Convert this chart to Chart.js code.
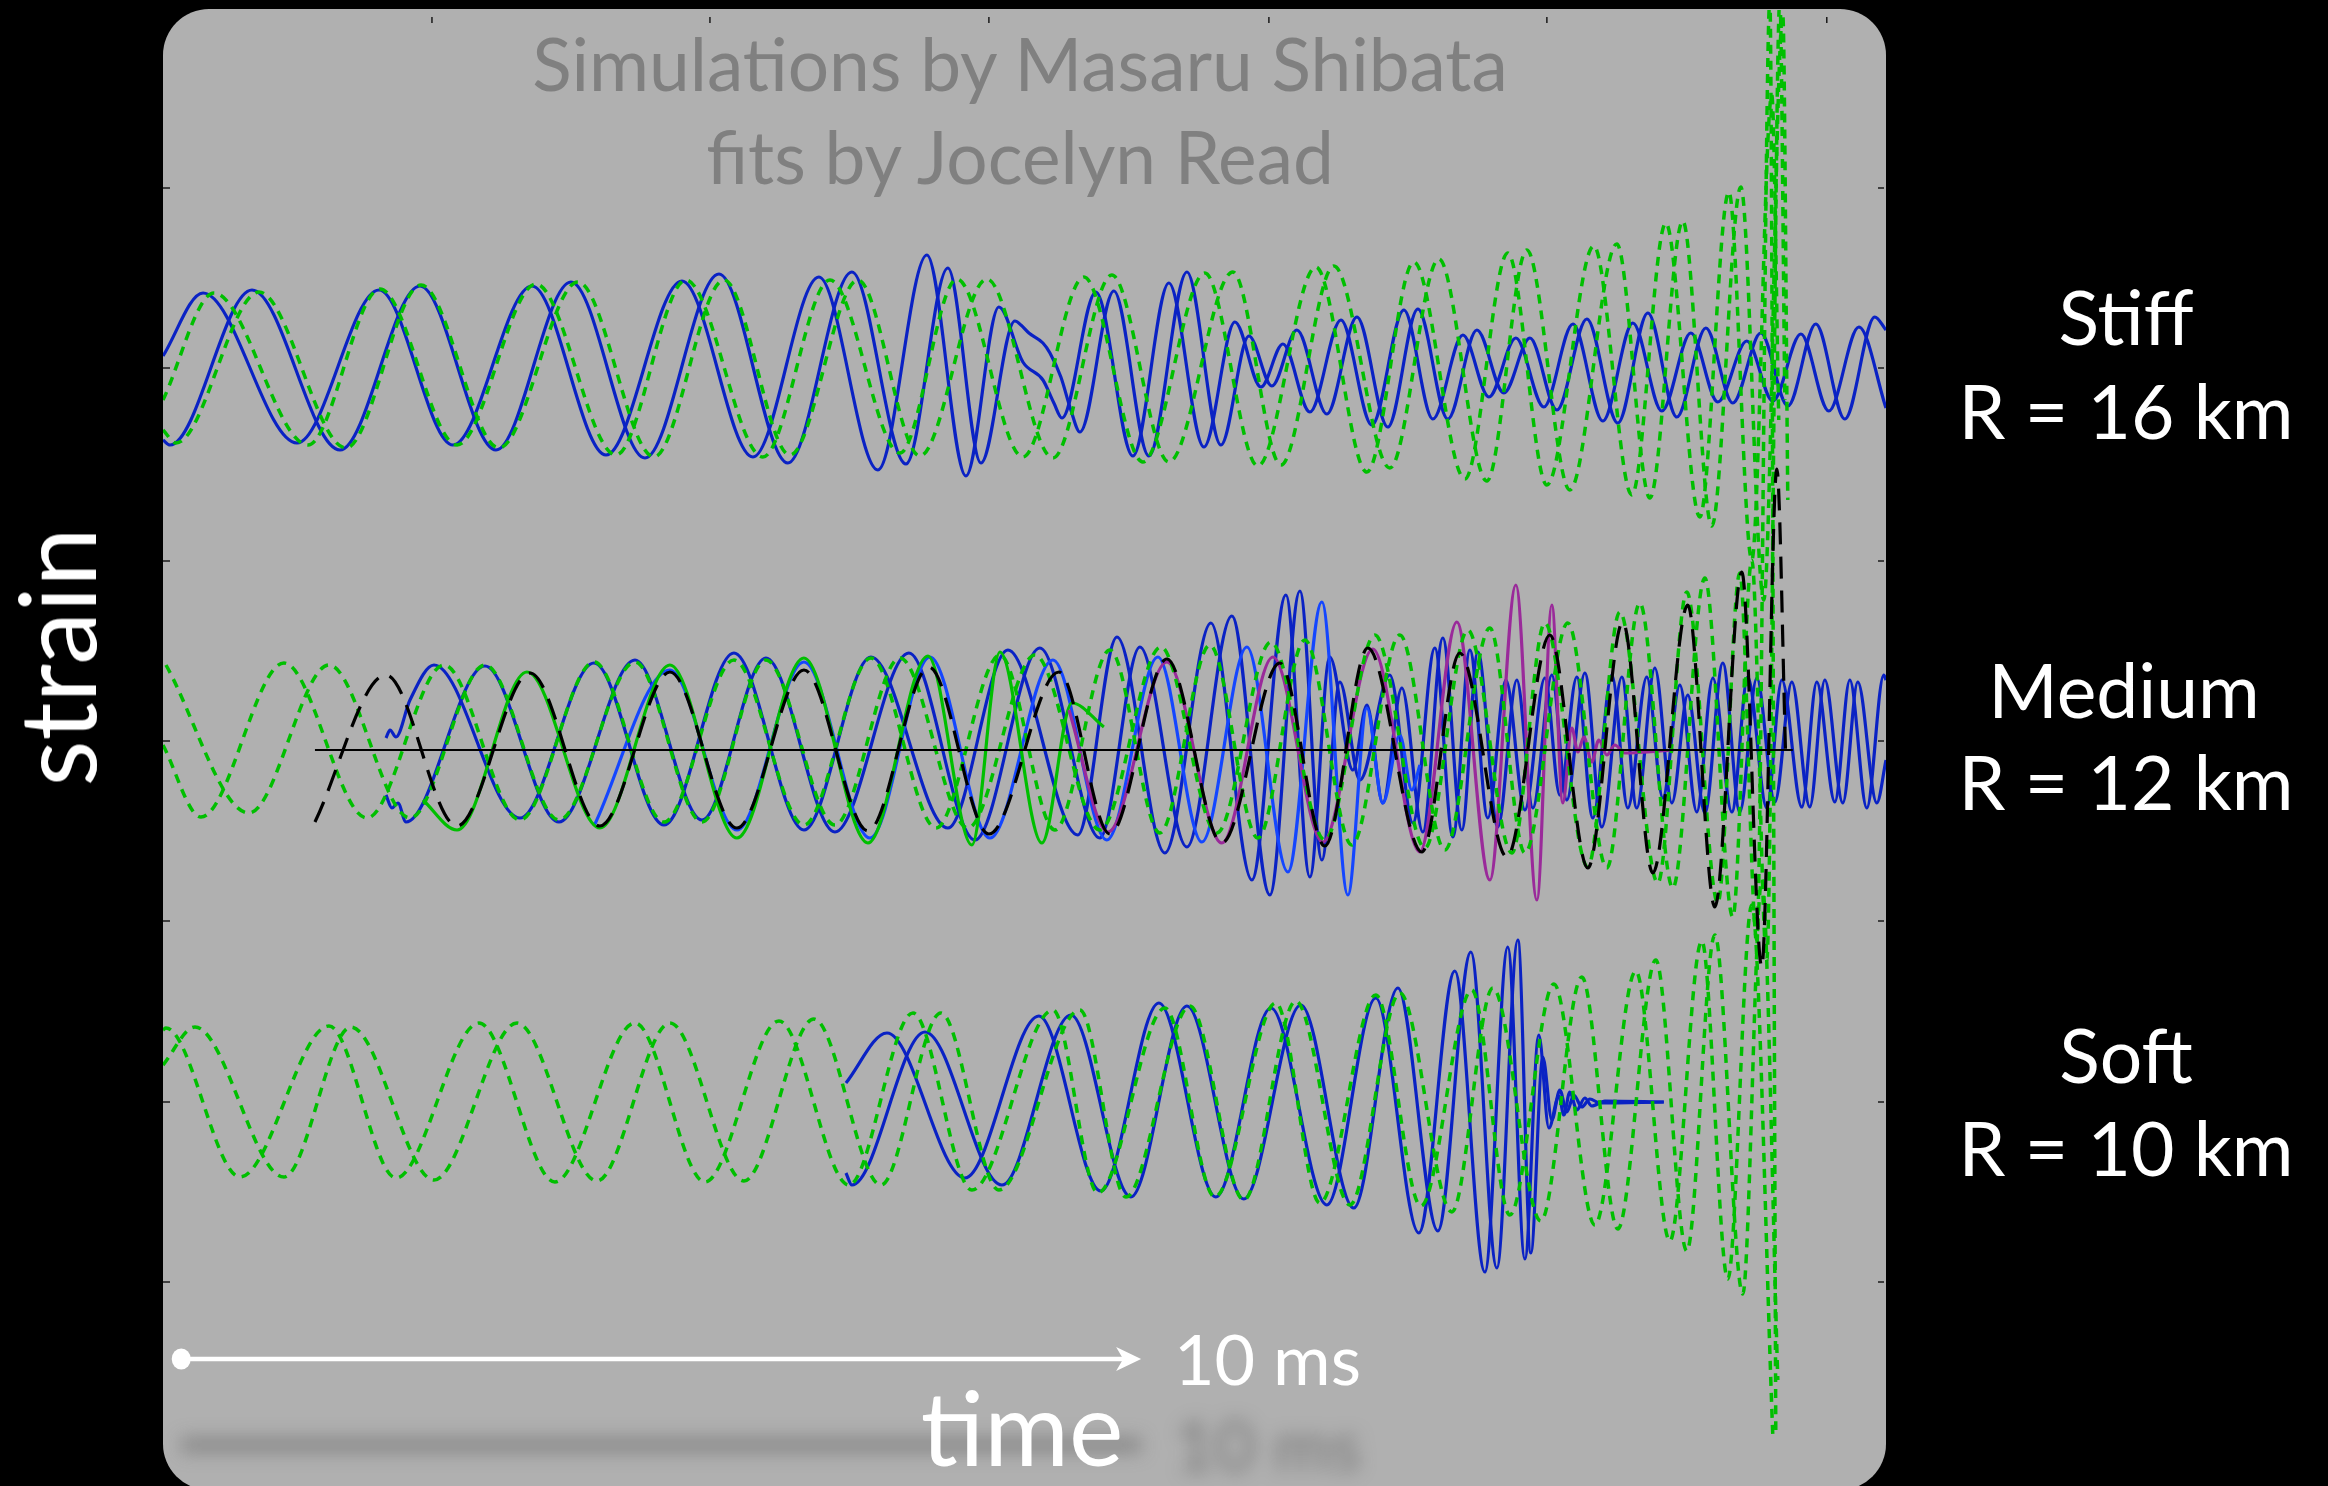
<!DOCTYPE html>
<html>
<head>
<meta charset="utf-8">
<title>Neutron star merger waveforms</title>
<script src="https://cdn.jsdelivr.net/npm/chart.js@4.4.1/dist/chart.umd.min.js"></script>
<style>
    html, body { margin: 0; padding: 0; background: #000; }
    #stage {
        position: relative;
        width: 2328px;
        height: 1486px;
        overflow: hidden;
        background: #000;
        font-family: Lato, "Open Sans", sans-serif;
    }
    #chart { position: absolute; left: 0; top: 0; }
    .lbl { position: absolute; white-space: nowrap; line-height: 1; }
    .title { color: #808080; font-size: 73px; transform: translateX(-50%); }
    .eos { color: #fff; font-size: 75px; transform: translateX(-50%); }
    .axis { color: #fff; }
</style>
</head>
<body>
<div id="stage">
    <canvas id="chart" width="2328" height="1486"></canvas>

    <div class="lbl title" style="left:1020px;top:27px">Simulations by Masaru Shibata</div>
    <div class="lbl title" style="left:1020px;top:120px">fits by Jocelyn Read</div>

    <div class="lbl eos" style="left:2126px;top:279px">Stiff</div>
    <div class="lbl eos" style="left:2126px;top:373px">R = 16 km</div>
    <div class="lbl eos" style="left:2124px;top:652px">Medium</div>
    <div class="lbl eos" style="left:2126px;top:744px">R = 12 km</div>
    <div class="lbl eos" style="left:2126px;top:1017px">Soft</div>
    <div class="lbl eos" style="left:2126px;top:1110px">R = 10 km</div>

    <div class="lbl axis" style="left:55px;top:657px;font-size:106px;transform:translate(-50%,-50%) rotate(-90deg)">strain</div>
    <div class="lbl axis" style="left:1174px;top:1323px;font-size:70px">10 ms</div>
    <div class="lbl axis" style="left:1022px;top:1375px;font-size:103px;transform:translateX(-50%)">time</div>
</div>

<script>
// Waveforms are kept as [time (ms), strain] extrema;
// each equation-of-state group is shifted vertically by its own offset.

const STIFF_OFFSET = 3.82;
const MEDIUM_OFFSET = 0;
const SOFT_OFFSET = -3.52;

// ---- Stiff, R = 16 km ----
const STIFF_BLUE_A = [
    [0, 0.12], [0.417, 0.75], [1.396, -0.75], [2.25, 0.78], [3.021, -0.77], [3.844, 0.82],
    [4.615, -0.87], [5.406, 0.87], [6.146, -0.89], [6.833, 0.91], [7.448, -1.02], [7.958, 1.13],
    [8.365, -1.08], [8.708, 0.61], [8.958, 0.06], [9.167, -0.12], [9.281, -0.35], [9.365, -0.50],
    [9.719, 0.76], [10.104, -0.88], [10.479, 0.85], [10.844, -0.79], [11.167, 0.46], [11.438, -0.19],
    [11.667, 0.24], [11.948, -0.44], [12.271, 0.48], [12.594, -0.57], [12.927, 0.58], [13.229, -0.51],
    [13.542, 0.33], [13.813, -0.29], [14.094, 0.30], [14.385, -0.39], [14.688, 0.44], [15.0, -0.53],
    [15.313, 0.45], [15.615, -0.43], [15.917, 0.35], [16.198, -0.34], [16.5, 0.27], [16.771, -0.33],
    [17.063, 0.34], [17.354, -0.43], [17.667, 0.41], [17.95, -0.40]
];
const STIFF_BLUE_B = [
    [0, -0.72], [0.073, -0.77], [0.927, 0.78], [1.844, -0.82], [2.677, 0.82], [3.469, -0.82],
    [4.25, 0.86], [5.021, -0.90], [5.792, 0.94], [6.51, -0.95], [7.177, 0.96], [7.74, -0.96],
    [8.177, 1.00], [8.521, -0.95], [8.875, 0.47], [8.938, 0.43], [9.021, 0.35], [9.167, 0.25],
    [9.24, 0.15], [9.354, -0.09], [9.458, -0.42], [9.552, -0.64], [9.906, 0.77], [10.271, -0.88],
    [10.667, 0.96], [11.021, -0.77], [11.313, 0.32], [11.552, -0.18], [11.813, 0.38], [12.125, -0.46],
    [12.438, 0.51], [12.76, -0.59], [13.073, 0.59], [13.385, -0.51], [13.688, 0.38], [13.969, -0.25],
    [14.24, 0.30], [14.521, -0.42], [14.833, 0.49], [15.156, -0.55], [15.469, 0.55], [15.771, -0.49],
    [16.073, 0.40], [16.354, -0.35], [16.646, 0.35], [16.927, -0.38], [17.219, 0.44], [17.521, -0.51],
    [17.833, 0.51], [17.95, 0.38]
];
const STIFF_FIT_A = [
    [0, -0.32], [0.531, 0.75], [1.51, -0.77], [2.26, 0.79], [3.063, -0.77], [3.885, 0.84],
    [4.719, -0.87], [5.448, 0.88], [6.25, -0.89], [6.948, 0.88], [7.677, -0.85], [8.271, 0.89],
    [8.958, -0.89], [9.594, 0.91], [10.208, -0.94], [10.854, 0.95], [11.406, -0.98], [12.01, 1.01],
    [12.542, -1.04], [13.031, 1.06], [13.563, -1.11], [14.01, 1.15], [14.417, -1.17], [14.906, 1.22],
    [15.302, -1.27], [15.656, 1.45], [16.01, -1.49], [16.313, 1.76], [16.552, -1.92], [16.76, 2.73],
    [16.833, -0.52]
];
const STIFF_FIT_B = [
    [0, -0.62], [0.135, -0.75], [1.0, 0.76], [1.906, -0.80], [2.688, 0.83], [3.5, -0.80],
    [4.323, 0.86], [5.115, -0.89], [5.844, 0.88], [6.531, -0.87], [7.24, 0.88], [7.885, -0.88],
    [8.583, 0.89], [9.271, -0.90], [9.885, 0.93], [10.479, -0.94], [11.146, 0.96], [11.646, -0.97],
    [12.198, 1.02], [12.781, -1.00], [13.292, 1.09], [13.792, -1.13], [14.208, 1.18], [14.656, -1.22],
    [15.146, 1.24], [15.49, -1.30], [15.833, 1.47], [16.135, -1.58], [16.438, 1.81], [16.677, -2.32],
    [16.875, 3.53], [16.927, -1.32]
];

// ---- Medium, R = 12 km ----
const MEDIUM_ZERO = [[1.583, 0], [16.979, 0]];
const MEDIUM_BLACK = [
    [1.583, -0.72], [2.323, 0.75], [3.063, -0.76], [3.823, 0.77], [4.552, -0.76], [5.281, 0.78],
    [5.979, -0.78], [6.677, 0.80], [7.344, -0.81], [7.979, 0.83], [8.604, -0.84], [9.333, 0.78],
    [9.865, -0.84], [10.458, 0.91], [11.031, -0.93], [11.635, 0.87], [12.104, -0.96], [12.552, 1.02],
    [13.115, -1.02], [13.51, 0.97], [14.0, -1.07], [14.448, 1.15], [14.844, -1.18], [15.208, 1.28],
    [15.521, -1.23], [15.885, 1.45], [16.167, -1.57], [16.448, 1.78], [16.656, -2.17], [16.813, 2.81],
    [16.906, -0.10]
];
const MEDIUM_GREEN = [
    [2.708, -0.50], [3.063, -0.80], [3.792, 0.78], [4.552, -0.78], [5.281, 0.85], [5.979, -0.88],
    [6.677, 0.92], [7.344, -0.93], [7.969, 0.94], [8.427, -0.95], [8.719, 0.98], [9.156, -0.93],
    [9.469, 0.47], [9.802, 0.23]
];
const MEDIUM_LIGHT = [
    [4.49, -0.76], [5.281, 0.80], [5.979, -0.80], [6.677, 0.88], [7.365, -0.88], [7.99, 0.93],
    [8.615, -0.88], [9.271, 0.90], [9.833, -0.90], [10.365, 0.93], [10.823, -0.92], [11.292, 1.03],
    [11.719, -1.22], [12.073, 1.48], [12.344, -1.45], [12.542, 0.42], [12.708, -0.53], [12.885, 0.15],
    [13.01, -0.40], [13.094, -0.15]
];
const MEDIUM_PURPLE = [
    [9.438, 0.40], [9.844, -0.82], [10.458, 0.88], [11.031, -0.93], [11.563, 0.93], [12.083, -0.92],
    [12.604, 1.01], [13.094, -1.02], [13.479, 1.28], [13.823, -1.30], [14.094, 1.65], [14.313, -1.50],
    [14.469, 1.45], [14.583, -0.53], [14.677, 0.22], [14.74, -0.02], [14.802, 0.13], [14.885, -0.12],
    [14.958, 0.10], [15.042, -0.05], [15.125, 0.05], [15.229, -0.03], [15.74, 0]
];
const MEDIUM_BLUE_A = [
    [2.323, 0.12], [2.365, 0.20], [2.427, 0.13], [2.573, 0.50], [2.823, 0.85], [3.719, -0.68],
    [4.49, 0.87], [5.219, -0.75], [5.948, 0.97], [6.677, -0.80], [7.375, 0.93], [8.177, -0.78],
    [8.802, 1.00], [9.531, -0.85], [9.938, 1.13], [10.438, -1.03], [10.917, 1.27], [11.344, -1.30],
    [11.698, 1.55], [11.948, -1.27], [12.156, 0.93], [12.396, -0.20], [12.542, 0.45], [12.708, -0.53],
    [12.906, 0.62], [13.125, -0.82], [13.333, 1.12], [13.531, -0.80], [13.698, 0.98], [13.906, -0.77],
    [14.104, 0.70], [14.271, -0.58], [14.469, 0.75], [14.625, -0.50], [14.813, 0.77], [14.99, -0.77],
    [15.198, 0.73], [15.354, -0.58], [15.542, 0.82], [15.719, -0.53], [15.885, 0.55], [16.063, -0.63],
    [16.25, 0.87], [16.427, -0.62], [16.604, 0.72], [16.792, -0.52], [16.969, 0.68], [17.156, -0.57],
    [17.313, 0.70], [17.5, -0.53], [17.656, 0.68], [17.854, -0.53], [17.95, -0.10]
];
const MEDIUM_BLUE_B = [
    [2.323, -0.45], [2.385, -0.58], [2.448, -0.53], [2.531, -0.72], [3.354, 0.84], [4.125, -0.72],
    [4.917, 0.90], [5.615, -0.70], [6.281, 0.92], [7.0, -0.82], [7.771, 0.97], [8.458, -0.90],
    [9.135, 1.02], [9.76, -0.88], [10.177, 1.03], [10.667, -0.97], [11.135, 1.34], [11.531, -1.45],
    [11.844, 1.59], [12.073, -1.10], [12.26, 0.68], [12.469, -0.30], [12.781, 0.75], [13.021, -0.73],
    [13.25, 1.02], [13.438, -0.87], [13.615, 1.00], [13.802, -0.68], [13.99, 0.70], [14.188, -0.60],
    [14.396, 0.72], [14.552, -0.45], [14.729, 0.73], [14.896, -0.68], [15.094, 0.75], [15.26, -0.58],
    [15.458, 0.73], [15.625, -0.48], [15.802, 0.65], [15.979, -0.62], [16.146, 0.72], [16.344, -0.62],
    [16.51, 0.73], [16.708, -0.58], [16.865, 0.70], [17.073, -0.57], [17.229, 0.68], [17.417, -0.52],
    [17.573, 0.70], [17.75, -0.58], [17.927, 0.75], [17.95, 0.70]
];
const MEDIUM_FIT_A = [
    [0.031, 0.85], [0.896, -0.63], [1.729, 0.85], [2.573, -0.68], [3.354, 0.85], [4.125, -0.70],
    [4.917, 0.88], [5.615, -0.72], [6.281, 0.90], [7.0, -0.75], [7.677, 0.92], [8.385, -0.78],
    [9.083, 0.95], [9.76, -0.80], [10.396, 1.03], [10.979, -0.83], [11.542, 1.08], [12.104, -0.90],
    [12.625, 1.15], [13.146, -0.98], [13.594, 1.20], [14.052, -1.03], [14.396, 1.27], [14.844, -1.17],
    [15.177, 1.38], [15.573, -1.33], [15.875, 1.58], [16.198, -1.53], [16.427, 1.77], [16.604, -1.90],
    [16.74, 7.5], [16.802, -6.86]
];
const MEDIUM_FIT_B = [
    [0, 0.05], [0.396, -0.67], [1.26, 0.87], [2.125, -0.68], [2.927, 0.85], [3.719, -0.70],
    [4.49, 0.88], [5.219, -0.72], [5.948, 0.90], [6.677, -0.75], [7.375, 0.92], [8.052, -0.78],
    [8.719, 0.95], [9.292, -0.80], [9.865, 1.00], [10.385, -0.83], [10.906, 1.05], [11.406, -0.88],
    [11.896, 1.10], [12.385, -0.95], [12.885, 1.15], [13.354, -1.00], [13.823, 1.22], [14.188, -1.03],
    [14.635, 1.27], [15.042, -1.18], [15.385, 1.47], [15.729, -1.38], [16.063, 1.72], [16.354, -1.67],
    [16.552, 1.90], [16.708, -2.10], [16.844, 7.5], [16.896, 3.5]
];

// ---- Soft, R = 10 km ----
const SOFT_BLUE_A = [
    [7.115, 0.19], [7.542, 0.69], [8.354, -0.76], [9.125, 0.86], [9.771, -0.89], [10.375, 0.99],
    [10.969, -0.95], [11.542, 0.94], [12.125, -1.03], [12.635, 1.04], [13.083, -1.31], [13.458, 1.31],
    [13.771, -1.70], [14.01, 1.55], [14.188, -1.57], [14.333, 0.67], [14.438, -0.26], [14.542, 0.06],
    [14.594, -0.13], [14.656, 0.10], [14.729, -0.08], [14.813, 0.04], [14.885, -0.04], [15.021, 0.01],
    [15.635, 0]
];
const SOFT_BLUE_B = [
    [7.115, -0.71], [7.177, -0.83], [7.938, 0.70], [8.74, -0.83], [9.458, 0.87], [10.083, -0.95],
    [10.667, 0.96], [11.26, -0.97], [11.854, 0.97], [12.406, -1.06], [12.865, 1.14], [13.281, -1.29],
    [13.625, 1.50], [13.896, -1.66], [14.115, 1.62], [14.25, -1.51], [14.375, 0.45], [14.469, -0.18],
    [14.552, 0.12], [14.625, -0.10], [14.698, 0.07], [14.781, -0.05], [14.865, 0.03], [14.969, -0.01],
    [15.635, 0]
];
const SOFT_FIT_A = [
    [0, 0.72], [0.031, 0.74], [0.802, -0.75], [1.729, 0.76], [2.427, -0.76], [3.292, 0.79],
    [4.083, -0.80], [4.917, 0.79], [5.646, -0.80], [6.417, 0.81], [7.146, -0.83], [7.813, 0.89],
    [8.427, -0.88], [9.271, 0.92], [9.74, -0.91], [10.438, 0.94], [10.958, -0.95], [11.594, 0.99],
    [12.052, -1.01], [12.635, 1.07], [13.104, -1.04], [13.635, 1.12], [14.031, -1.13], [14.49, 1.18],
    [14.917, -1.23], [15.344, 1.31], [15.698, -1.39], [16.031, 1.61], [16.302, -1.77], [16.552, 1.97],
    [16.771, -3.34]
];
const SOFT_FIT_B = [
    [0, 0.37], [0.333, 0.75], [1.26, -0.75], [1.958, 0.75], [2.823, -0.78], [3.688, 0.79],
    [4.521, -0.79], [5.281, 0.79], [6.052, -0.79], [6.781, 0.83], [7.479, -0.83], [8.104, 0.89],
    [8.708, -0.88], [9.552, 0.92], [10.031, -0.95], [10.698, 0.96], [11.26, -0.98], [11.802, 1.01],
    [12.365, -1.03], [12.885, 1.09], [13.427, -1.10], [13.854, 1.14], [14.354, -1.19], [14.781, 1.25],
    [15.156, -1.27], [15.552, 1.42], [15.875, -1.49], [16.167, 1.67], [16.458, -1.92], [16.656, 2.22],
    [16.823, -2.78]
];

// frame ticks (ms along the top edge, strain along the sides)
const X_TICKS = [2.802, 5.698, 8.604, 11.521, 14.417, 17.333];
const Y_TICKS = [5.62, 3.82, 1.89, 0.09, -1.71, -3.52, -5.32];

// 10 ms scale bar
const SCALE_T0 = 0.19;
const SCALE_MS = 10;
const SCALE_Y = -6.09;

const X_MAX = 17.95;
const Y_MIN = -7.36;
const Y_MAX = 7.40;

const DARK_BLUE = '#0a22c4';
const LIGHT_BLUE = '#1446ff';
const GREEN = '#00bf00';
const PURPLE = '#9a2a9a';
const PANEL_GRAY = '#b0b0b0';

const FIT_DASH = [9, 7];
const LONG_DASH = [22, 12];

// lower order is drawn on top
const lines = [
    { data: MEDIUM_ZERO, offset: MEDIUM_OFFSET, color: '#000', width: 2, order: 0 },
    { data: MEDIUM_BLACK, offset: MEDIUM_OFFSET, color: '#000', width: 3.2, dash: LONG_DASH, order: 1 },

    { data: STIFF_FIT_A, offset: STIFF_OFFSET, color: GREEN, width: 3.5, dash: FIT_DASH, order: 2 },
    { data: STIFF_FIT_B, offset: STIFF_OFFSET, color: GREEN, width: 3.5, dash: FIT_DASH, order: 2 },
    { data: MEDIUM_FIT_A, offset: MEDIUM_OFFSET, color: GREEN, width: 3.5, dash: FIT_DASH, order: 2 },
    { data: MEDIUM_FIT_B, offset: MEDIUM_OFFSET, color: GREEN, width: 3.5, dash: FIT_DASH, order: 2 },
    { data: SOFT_FIT_A, offset: SOFT_OFFSET, color: GREEN, width: 3.5, dash: FIT_DASH, order: 2 },
    { data: SOFT_FIT_B, offset: SOFT_OFFSET, color: GREEN, width: 3.5, dash: FIT_DASH, order: 2 },

    { data: MEDIUM_PURPLE, offset: MEDIUM_OFFSET, color: PURPLE, width: 3.2, order: 3 },
    { data: MEDIUM_GREEN, offset: MEDIUM_OFFSET, color: GREEN, width: 3.2, order: 4 },
    { data: MEDIUM_LIGHT, offset: MEDIUM_OFFSET, color: LIGHT_BLUE, width: 3.2, order: 5 },

    { data: STIFF_BLUE_A, offset: STIFF_OFFSET, color: DARK_BLUE, width: 3.2, order: 6 },
    { data: STIFF_BLUE_B, offset: STIFF_OFFSET, color: DARK_BLUE, width: 3.2, order: 6 },
    { data: MEDIUM_BLUE_A, offset: MEDIUM_OFFSET, color: DARK_BLUE, width: 3.2, order: 6 },
    { data: MEDIUM_BLUE_B, offset: MEDIUM_OFFSET, color: DARK_BLUE, width: 3.2, order: 6 },
    { data: SOFT_BLUE_A, offset: SOFT_OFFSET, color: DARK_BLUE, width: 3.2, order: 6 },
    { data: SOFT_BLUE_B, offset: SOFT_OFFSET, color: DARK_BLUE, width: 3.2, order: 6 }
];

function toPoints(arr, offset) {
    return arr.map(([t, h]) => ({ x: t, y: h + offset }));
}

// Rounded grey panel behind the traces
const panelPlugin = {
    id: 'panel',
    beforeDraw(chart) {
        const { ctx, chartArea: a } = chart;
        ctx.save();
        ctx.fillStyle = PANEL_GRAY;
        ctx.beginPath();
        ctx.roundRect(a.left, a.top - 1, a.right - a.left, a.bottom - a.top + 5, 46);
        ctx.fill();
        ctx.restore();
    }
};

// Frame ticks, the scale bar and its blurred shadow
const decorPlugin = {
    id: 'decor',
    beforeDatasetsDraw(chart) {
        const { ctx, chartArea: a, scales: { x, y } } = chart;
        ctx.save();
        ctx.strokeStyle = '#1a1a1a';
        ctx.lineWidth = 1.5;
        ctx.beginPath();
        X_TICKS.forEach(t => {
            const px = x.getPixelForValue(t);
            ctx.moveTo(px, a.top + 7);
            ctx.lineTo(px, a.top + 13);
        });
        Y_TICKS.forEach(v => {
            const py = y.getPixelForValue(v);
            ctx.moveTo(a.left, py);
            ctx.lineTo(a.left + 7, py);
            ctx.moveTo(a.right - 8, py);
            ctx.lineTo(a.right - 2, py);
        });
        ctx.stroke();

        // soft shadow of the scale bar below it
        const x0 = x.getPixelForValue(SCALE_T0);
        const x1 = x.getPixelForValue(SCALE_T0 + SCALE_MS);
        const sy = y.getPixelForValue(SCALE_Y) + 86;
        ctx.filter = 'blur(9px)';
        ctx.strokeStyle = 'rgba(95, 95, 95, 0.5)';
        ctx.lineWidth = 15;
        ctx.beginPath();
        ctx.moveTo(x0, sy);
        ctx.lineTo(x1, sy);
        ctx.stroke();
        ctx.fillStyle = 'rgba(85, 85, 85, 0.6)';
        ctx.font = '70px Lato, sans-serif';
        ctx.fillText('10 ms', x1 + 33, sy + 26);
        ctx.restore();
    },
    afterDatasetsDraw(chart) {
        const { ctx, scales: { x, y } } = chart;
        const x0 = x.getPixelForValue(SCALE_T0);
        const x1 = x.getPixelForValue(SCALE_T0 + SCALE_MS);
        const py = y.getPixelForValue(SCALE_Y);
        ctx.save();
        ctx.fillStyle = '#fff';
        ctx.strokeStyle = '#fff';
        ctx.lineWidth = 4.5;
        ctx.beginPath();
        ctx.moveTo(x0, py);
        ctx.lineTo(x1 - 16, py);
        ctx.stroke();
        ctx.beginPath();
        ctx.ellipse(x0, py, 9.5, 10.5, 0, 0, Math.PI * 2);
        ctx.fill();
        ctx.beginPath();
        ctx.moveTo(x1, py);
        ctx.lineTo(x1 - 25, py - 12);
        ctx.lineTo(x1 - 18, py);
        ctx.lineTo(x1 - 25, py + 12);
        ctx.closePath();
        ctx.fill();
        ctx.restore();
    }
};

const ctx = document.getElementById('chart').getContext('2d');

new Chart(ctx, {
    type: 'line',
    data: {
        datasets: lines.map(l => ({
            data: toPoints(l.data, l.offset),
            borderColor: l.color,
            borderWidth: l.width,
            borderDash: l.dash || [],
            borderCapStyle: 'butt',
            borderJoinStyle: 'round',
            cubicInterpolationMode: 'monotone',
            pointRadius: 0,
            pointHoverRadius: 0,
            fill: false,
            order: l.order
        }))
    },
    options: {
        responsive: false,
        animation: false,
        devicePixelRatio: 1,
        events: [],
        layout: { padding: { left: 163, right: 442, top: 10, bottom: 0 } },
        scales: {
            x: { type: 'linear', min: 0, max: X_MAX, display: false },
            y: { type: 'linear', min: Y_MIN, max: Y_MAX, display: false }
        },
        plugins: {
            legend: { display: false },
            tooltip: { enabled: false }
        }
    },
    plugins: [panelPlugin, decorPlugin]
});
</script>
</body>
</html>
